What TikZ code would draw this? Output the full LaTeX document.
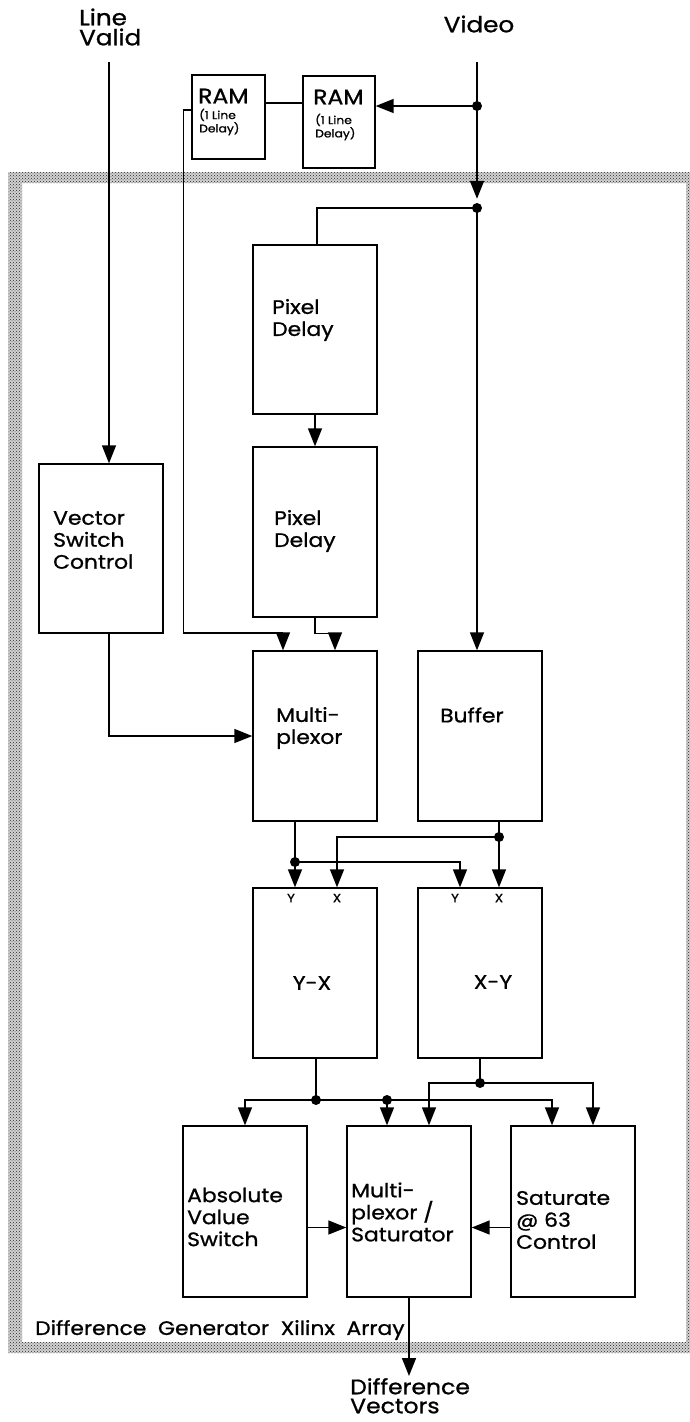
\documentclass[tikz,border=0pt]{standalone}
\usepackage{fontspec}
\setmainfont{Poppins}[FakeStretch=1.12, FakeBold=1.0]
\usetikzlibrary{arrows.meta,patterns,calc}
\begin{document}
\begin{tikzpicture}[x=1pt,y=-1pt,
  box/.style={draw, line width=1.4pt, inner sep=0pt},
  conn/.style={line width=1.5pt},
  arr/.style={conn, -{Triangle[length=18pt,width=14pt]}},
  dotn/.style={circle, fill, inner sep=0pt, minimum size=10pt},
  lbl/.style={font=\fontsize{19.5}{22}\selectfont, align=left, inner sep=0pt, anchor=west},
  biglbl/.style={font=\fontsize{22}{20}\selectfont, align=left, inner sep=0pt, anchor=west},
  tiny/.style={font=\fontsize{11}{10}\selectfont, align=left, inner sep=0pt, anchor=west},
  port/.style={font=\fontsize{12}{12}\selectfont, inner sep=0pt}
]
\useasboundingbox (0,0) rectangle (690,1422);
\fill[white] (0,0) rectangle (690,1422);
% frame
\fill[gray!35, even odd rule]
  (8,172) rectangle (698,1353) (22,183) rectangle (686,1342);
\fill[pattern=crosshatch dots, pattern color=black!85, even odd rule]
  (8,172) rectangle (698,1353) (22,183) rectangle (686,1342);

% boxes
\node[box, minimum width=73pt, minimum height=84pt] (ram1) at (228.5,117) {};
\node[box, minimum width=72pt, minimum height=92pt] (ram2) at (339,122) {};
\node[box, minimum width=124pt, minimum height=169pt] (pd1) at (315,329.5) {};
\node[box, minimum width=124pt, minimum height=170pt] (pd2) at (315,532) {};
\node[box, minimum width=124pt, minimum height=169pt] (vsc) at (101,548.5) {};
\node[box, minimum width=124pt, minimum height=170pt] (mux) at (315,736) {};
\node[box, minimum width=124pt, minimum height=170pt] (buf) at (480,736) {};
\node[box, minimum width=124pt, minimum height=170pt] (yx) at (315,973) {};
\node[box, minimum width=124pt, minimum height=170pt] (xy) at (480,973) {};
\node[box, minimum width=124pt, minimum height=171pt] (abs) at (245,1211.5) {};
\node[box, minimum width=124pt, minimum height=171pt] (mux2) at (409,1211.5) {};
\node[box, minimum width=124pt, minimum height=171pt] (sat) at (573,1211.5) {};

% texts
\node[biglbl] (tlv) at (79,27) {Line\\Valid};
\node[biglbl, anchor=center] (tvid) at (479,24) {Video};
\node[lbl, font=\fontsize{21}{22}\selectfont] (tram1) at (198,96) {RAM};
\node[tiny] (tram1s) at (199,122) {(1 Line\\Delay)};
\node[lbl, font=\fontsize{21}{22}\selectfont] (tram2) at (313,97) {RAM};
\node[tiny] (tram2s) at (315,127) {(1 Line\\Delay)};
\node[lbl] (tpd1) at (272,320) {Pixel\\Delay};
\node[lbl] (tpd2) at (274,531) {Pixel\\Delay};
\node[lbl] (tvsc) at (53,540) {Vector\\Switch\\Control};
\node[lbl] (tmux) at (276,728) {Multi-\\plexor};
\node[lbl] (tbuf) at (440,715) {Buffer};
\node[lbl, anchor=center] (tyx) at (312,983) {Y-X};
\node[lbl, anchor=center] (txy) at (493,982) {X-Y};
\node[lbl] (tabs) at (187,1217) {Absolute\\Value\\Switch};
\node[lbl] (tmux2) at (351,1212) {Multi-\\plexor /\\Saturator};
\node[lbl] (tsat) at (516,1220) {Saturate\\@ 63\\Control};
\node[lbl] (tframe) at (35,1330) {Difference\ \ Generator\ \ Xilinx\ \ Array};
\node[biglbl, font=\fontsize{21}{19}\selectfont, anchor=north west] (tdv) at (350,1378) {Difference\\Vectors};
\node[port] (yy1) at (291,898) {Y};
\node[port] (yx1) at (337,898) {X};
\node[port] (xy1) at (455,898) {Y};
\node[port] (xx1) at (499,898) {X};

% coordinates and dots
\coordinate (lvtop) at (109,62);
\coordinate (vtop) at (477,62);
\node[dotn] (v1) at (477,106) {};
\node[dotn] (v2) at (477,208) {};
\node[dotn] (m1) at (295,862) {};
\node[dotn] (b1) at (499,837) {};
\node[dotn] (y1) at (316,1100) {};
\node[dotn] (y2) at (387,1100) {};
\node[dotn] (x1) at (480,1083) {};
\coordinate (dv) at (409,1376);

% connectors
\draw[arr] (lvtop) -- (lvtop |- vsc.north);
\draw[conn] (vtop) -- (v1.center);
\draw[arr] (v1.center) -- (ram2.east |- v1.center);
\draw[arr] (v1.center) -- ([yshift=4pt]v2.north);
\draw[arr] (v2.center) -- (v2.center |- buf.north);
\draw[conn] (v2.center) -| ([xshift=2pt]pd1.north);
\draw[conn] ([yshift=19pt]ram2.west) -- ([yshift=19pt]ram2.west -| ram1.east);
\draw[arr] ([yshift=7pt]ram1.west) -- ++(-8,0) |- (283,633) -- ([xshift=-32pt]mux.north);
\draw[arr] (pd1.south) -- (pd2.north);
\draw[arr] (pd2.south) -- ++(0,16) -| ([xshift=20pt]mux.north);
\draw[arr] ([xshift=8pt]vsc.south) |- (mux.west);
\draw[conn] ([xshift=-20pt]mux.south) -- (m1.center);
\draw[arr] (m1.center) -- ([xshift=-20pt]yx.north);
\draw[arr] (m1.center) -| ([xshift=-20pt]xy.north);
\draw[conn] ([xshift=19pt]buf.south) -- (b1.center);
\draw[arr] (b1.center) -- ([xshift=19pt]xy.north);
\draw[arr] (b1.center) -| ([xshift=22pt]yx.north);
\draw[conn] ([xshift=1pt]yx.south) -- (y1.center);
\draw[arr] (y1.center) -| (abs.north);
\draw[arr] (y1.center) -| ([xshift=-21pt]sat.north);
\draw[arr] (y2.center) -- ([xshift=-22pt]mux2.north);
\draw[conn] (xy.south) -- (x1.center);
\draw[arr] (x1.center) -| ([xshift=20pt]mux2.north);
\draw[arr] (x1.center) -| ([xshift=20pt]sat.north);
\draw[arr] ([yshift=-16pt]abs.east) -- ([yshift=-16pt]mux2.west);
\draw[arr] ([yshift=-16pt]sat.west) -- ([yshift=-16pt]mux2.east);
\draw[arr] (mux2.south) -- (dv);
\end{tikzpicture}
\end{document}
